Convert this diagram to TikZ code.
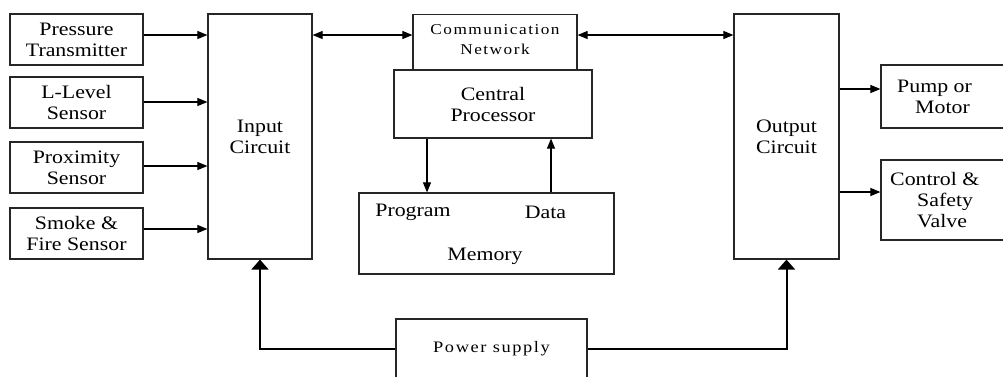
\documentclass[tikz,border=0pt]{standalone}
\usepackage{fontspec}
\setmainfont{Liberation Serif}[FakeStretch=1.15]
\newfontfamily\spacedfont{Liberation Serif}[FakeStretch=1.15,LetterSpace=10]
\usetikzlibrary{arrows.meta,calc}
\begin{document}
\begin{tikzpicture}[x=1pt,y=-1pt,
  box/.style={draw=black!85,line width=1.2pt,rectangle,inner sep=0pt,align=center,font=\fontsize{19}{21}\selectfont},
  arr/.style={-{Triangle[length=10pt,width=8pt]},line width=1.1pt},
  darr/.style={{Triangle[length=10pt,width=8pt]}-{Triangle[length=10pt,width=8pt]},line width=1.1pt},
  parr/.style={-{Triangle[length=10pt,width=17pt]},line width=2pt},
  lbl/.style={inner sep=0pt,font=\fontsize{19}{21}\selectfont}]
\clip (0,0) rectangle (1003,376);
\fill[white] (0,0) rectangle (1003,376);
% sensors
\node[box,minimum width=133pt,minimum height=51pt] (pt) at (76.5,39.5) {Pressure\\Transmitter};
\node[box,minimum width=133pt,minimum height=51pt] (ll) at (76.5,102.5) {L-Level\\Sensor};
\node[box,minimum width=133pt,minimum height=51pt] (px) at (76.5,167.5) {Proximity\\Sensor};
\node[box,minimum width=133pt,minimum height=51pt] (sm) at (76.5,233.5) {Smoke \&\\Fire Sensor};
% circuits
\node[box,minimum width=104pt,minimum height=245pt] (ic) at (260,136.5) {Input\\Circuit};
\node[box,minimum width=105pt,minimum height=245pt] (oc) at (786.5,136.5) {Output\\Circuit};
% communication / processor
\node[box,minimum width=164pt,minimum height=56pt,anchor=north] (cn) at (495,14) {};
\node[lbl,font=\fontsize{15}{20}\spacedfont,align=center] (cnt) at (495,40) {Communication\\Network};
\node[box,fill=white,minimum width=198pt,minimum height=68pt] (cp) at (493,104) {Central\\Processor};
% memory
\node[box,minimum width=255pt,minimum height=81pt] (mem) at (486.5,233.5) {};
\node[lbl] (prog) at (413,212) {Program};
\node[lbl] (data) at (545.5,212) {Data};
\node[lbl] (memt) at (485,256) {Memory};
% outputs
\node[box,minimum width=124pt,minimum height=63pt] (pm) at (943,96.5) {};
\node[lbl,align=left,anchor=west] (pmt) at (897,97) {Pump or\\\hspace*{18pt}Motor};
\node[box,minimum width=124pt,minimum height=80pt] (cv) at (943,200) {};
\node[lbl,align=left,anchor=west] (cvt) at (890,200) {Control \&\\\hspace*{27pt}Safety\\\hspace*{27pt}Valve};
% power supply
\node[box,minimum width=191pt,minimum height=60pt,font=\fontsize{16}{20}\spacedfont] (ps) at (491.5,349) {Power supply};
% helper coordinates
\coordinate (y1) at (0,35);
\coordinate (y2) at (0,102);
\coordinate (y3) at (0,166);
\coordinate (y4) at (0,229);
\coordinate (y5) at (0,89);
\coordinate (y6) at (0,192);
\coordinate (x1) at (427,0);
\coordinate (x2) at (551,0);
% connectors
\draw[arr] (pt.east |- y1) -- (ic.west |- y1);
\draw[arr] (ll.east |- y2) -- (ic.west |- y2);
\draw[arr] (px.east |- y3) -- (ic.west |- y3);
\draw[arr] (sm.east |- y4) -- (ic.west |- y4);
\draw[darr] (ic.east |- y1) -- (cn.west |- y1);
\draw[darr] (cn.east |- y1) -- (oc.west |- y1);
\draw[arr] (cp.south -| x1) -- (mem.north -| x1);
\draw[arr] (mem.north -| x2) -- (cp.south -| x2);
\draw[arr] (oc.east |- y5) -- (pm.west |- y5);
\draw[arr] (oc.east |- y6) -- (cv.west |- y6);
\draw[parr] (ps.west) -| (ic.south);
\draw[parr] (ps.east) -| (oc.south);
\end{tikzpicture}
\end{document}
